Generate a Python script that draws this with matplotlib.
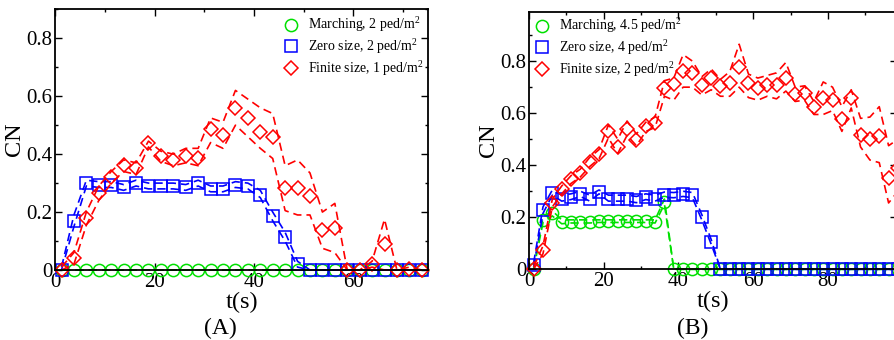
"""CN vs time for marching / zero-size / finite-size crowds, panels (A) and (B)."""
import matplotlib
matplotlib.use("Agg")
import matplotlib.pyplot as plt
from matplotlib.ticker import MultipleLocator

plt.rcParams["font.family"] = ["Liberation Serif", "DejaVu Serif"]
plt.rcParams["mathtext.fontset"] = "custom"
plt.rcParams["mathtext.rm"] = "Liberation Serif"
plt.rcParams["mathtext.it"] = "Liberation Serif:italic"

GREEN, BLUE, RED = "#00e000", "#0000ff", "#ff0000"

# ---- panel A: t = 1.25, 3.75, ... 73.75 --------------------------------
t_a = [1.25 + 2.5 * i for i in range(30)]
march_a = [0.0] * 30
march_a_hi = [0.0] * 30
march_a_lo = [0.0] * 30
zero_a = [0.0, 0.17, 0.30, 0.295, 0.295, 0.285, 0.30, 0.29, 0.29, 0.29,
          0.285, 0.30, 0.28, 0.28, 0.295, 0.29, 0.26, 0.185, 0.115, 0.02,
          0, 0, 0, 0, 0, 0, 0, 0, 0, 0]
zero_a_hi = [0.01, 0.19, 0.31, 0.305, 0.305, 0.295, 0.31, 0.30, 0.30, 0.30,
             0.295, 0.31, 0.29, 0.29, 0.305, 0.30, 0.275, 0.20, 0.13, 0.03,
             0, 0, 0, 0, 0, 0, 0, 0, 0, 0]
zero_a_lo = [0.0, 0.15, 0.29, 0.285, 0.285, 0.275, 0.29, 0.28, 0.28, 0.28,
             0.275, 0.29, 0.27, 0.27, 0.285, 0.28, 0.25, 0.17, 0.10, 0.01,
             0, 0, 0, 0, 0, 0, 0, 0, 0, 0]
finite_a = [0.0, 0.042, 0.18, 0.265, 0.322, 0.363, 0.351, 0.437, 0.394, 0.38,
            0.395, 0.386, 0.486, 0.466, 0.56, 0.524, 0.475, 0.46, 0.282, 0.284,
            0.257, 0.138, 0.144, 0.0, 0.0, 0.02, 0.089, 0.0, 0.002, 0.0]
finite_a_hi = [0.01, 0.06, 0.20, 0.29, 0.34, 0.38, 0.37, 0.445, 0.41, 0.40,
               0.42, 0.42, 0.525, 0.51, 0.62, 0.59, 0.56, 0.54, 0.36, 0.38,
               0.335, 0.20, 0.23, 0.0, 0.0, 0.03, 0.175, 0.0, 0.01, 0.0]
finite_a_lo = [0.0, 0.02, 0.155, 0.24, 0.30, 0.34, 0.33, 0.425, 0.375, 0.36,
               0.37, 0.36, 0.44, 0.42, 0.50, 0.46, 0.42, 0.385, 0.205, 0.19,
               0.19, 0.075, 0.06, 0.0, 0.0, 0.01, 0.0, 0.0, 0.0, 0.0]

# ---- panel B: t = 1.25, 3.75, ... 98.75 --------------------------------
t_b = [1.25 + 2.5 * i for i in range(40)]
march_b = [0.0, 0.19, 0.215, 0.18, 0.183, 0.183, 0.183, 0.185, 0.185, 0.185,
           0.185, 0.185, 0.185, 0.183, 0.26] + [0.0] * 25
march_b_hi = [0.005, 0.20, 0.225, 0.19, 0.19, 0.19, 0.19, 0.19, 0.19, 0.19,
              0.19, 0.19, 0.19, 0.19, 0.27] + [0.0] * 25
march_b_lo = [0.0, 0.18, 0.205, 0.175, 0.178, 0.178, 0.178, 0.18, 0.18, 0.18,
              0.18, 0.18, 0.18, 0.178, 0.25] + [0.0] * 25
zero_b = [0.017, 0.228, 0.294, 0.272, 0.279, 0.29, 0.272, 0.298, 0.272, 0.272,
          0.272, 0.266, 0.279, 0.272, 0.287, 0.285, 0.289, 0.285, 0.2, 0.106] + [0.0] * 20
zero_b_hi = [0.025, 0.24, 0.305, 0.285, 0.29, 0.30, 0.285, 0.305, 0.285, 0.285,
             0.285, 0.28, 0.29, 0.285, 0.297, 0.295, 0.30, 0.295, 0.21, 0.115] + [0.0] * 20
zero_b_lo = [0.01, 0.215, 0.285, 0.262, 0.268, 0.28, 0.262, 0.29, 0.262, 0.262,
             0.262, 0.256, 0.268, 0.262, 0.277, 0.275, 0.28, 0.275, 0.19, 0.097] + [0.0] * 20
finite_b = [0.0, 0.074, 0.256, 0.307, 0.346, 0.371, 0.413, 0.443, 0.532, 0.471,
            0.541, 0.497, 0.55, 0.563, 0.695, 0.714, 0.762, 0.755, 0.708, 0.736,
            0.704, 0.717, 0.778, 0.717, 0.695, 0.71, 0.708, 0.737, 0.672, 0.676,
            0.624, 0.657, 0.65, 0.576, 0.66, 0.516, 0.499, 0.512, 0.349, 0.39]
finite_b_hi = [0.01, 0.09, 0.27, 0.32, 0.36, 0.385, 0.43, 0.46, 0.555, 0.50,
               0.57, 0.52, 0.565, 0.585, 0.725, 0.735, 0.825, 0.80, 0.74, 0.77,
               0.73, 0.76, 0.865, 0.75, 0.735, 0.745, 0.755, 0.795, 0.70, 0.705,
               0.645, 0.72, 0.70, 0.625, 0.69, 0.58, 0.585, 0.625, 0.475, 0.50]
finite_b_lo = [0.0, 0.06, 0.24, 0.29, 0.33, 0.355, 0.395, 0.425, 0.505, 0.445,
               0.515, 0.475, 0.53, 0.545, 0.665, 0.65, 0.70, 0.70, 0.67, 0.69,
               0.665, 0.665, 0.70, 0.66, 0.65, 0.665, 0.655, 0.685, 0.645, 0.65,
               0.595, 0.595, 0.61, 0.53, 0.62, 0.47, 0.42, 0.41, 0.255, 0.30]

labels_a = ["Marching, 2 ped/m$^2$", "Zero size, 2 ped/m$^2$", "Finite size, 1 ped/m$^2$"]
labels_b = ["Marching, 4.5 ped/m$^2$", "Zero size, 4 ped/m$^2$", "Finite size, 2 ped/m$^2$"]

W, H = 895, 340
fig = plt.figure(figsize=(W / 100, H / 100), dpi=100)
axA = fig.add_axes([55.3 / W, 1 - 270 / H, (428 - 55.3) / W, (270 - 9.3) / H])
axB = fig.add_axes([529 / W, 1 - 269.3 / H, (897 - 529) / W, (269.3 - 11.7) / H])


def series(ax, t, mean, hi, lo, color, marker, ms, label):
    for band in (hi, lo):
        ax.plot(t, band, color=color, lw=1.2, dashes=(5, 3), clip_on=False)
    ax.plot(t, mean, ls="none", marker=marker, ms=ms, mfc="none", mec=color,
            mew=1.1, clip_on=False, label=label)


def style(ax, xmax, ymax, xmajor):
    ax.set_xlim(0, xmax)
    ax.set_ylim(0, ymax)
    ax.xaxis.set_major_locator(MultipleLocator(xmajor))
    ax.xaxis.set_minor_locator(MultipleLocator(xmajor / 2))
    ax.yaxis.set_major_locator(MultipleLocator(0.2))
    ax.yaxis.set_minor_locator(MultipleLocator(0.1))
    ax.yaxis.set_major_formatter(lambda v, p: "0" if abs(v) < 1e-9 else f"{v:.1f}")
    ax.tick_params(which="both", direction="in", top=True, right=True,
                   width=1.0, labelsize=15, pad=2)
    ax.tick_params(which="major", length=5)
    ax.tick_params(which="minor", length=2.5)
    for s in ax.spines.values():
        s.set_linewidth(1.3)
    ax.set_xlabel("t(s)", fontsize=17.5, labelpad=0)
    ax.set_ylabel("CN", fontsize=17.5, labelpad=1)


series(axA, t_a, march_a, march_a_hi, march_a_lo, GREEN, "o", 8.8, labels_a[0])
series(axA, t_a, zero_a, zero_a_hi, zero_a_lo, BLUE, "s", 8.0, labels_a[1])
series(axA, t_a, finite_a, finite_a_hi, finite_a_lo, RED, "D", 6.8, labels_a[2])
style(axA, 75, 0.9, 20)

series(axB, t_b, march_b, march_b_hi, march_b_lo, GREEN, "o", 8.8, labels_b[0])
series(axB, t_b, zero_b, zero_b_hi, zero_b_lo, BLUE, "s", 8.0, labels_b[1])
series(axB, t_b, finite_b, finite_b_hi, finite_b_lo, RED, "D", 6.8, labels_b[2])
style(axB, 98.5, 0.99, 20)

leg_kw = dict(frameon=False, fontsize=10, handlelength=1.05, handletextpad=0.75,
              labelspacing=0.2, borderpad=0, borderaxespad=0,
              bbox_transform=fig.transFigure, loc="upper left")
axA.legend(bbox_to_anchor=(283.4 / W, 1 - 15.5 / H), **leg_kw)
axB.legend(bbox_to_anchor=(534.4 / W, 1 - 16.5 / H), **leg_kw)

fig.text(220 / W, 1 - 328 / H, "(A)", ha="center", va="center", fontsize=17)
fig.text(693 / W, 1 - 328 / H, "(B)", ha="center", va="center", fontsize=17)

fig.savefig("out.png", dpi=100, facecolor="white")
